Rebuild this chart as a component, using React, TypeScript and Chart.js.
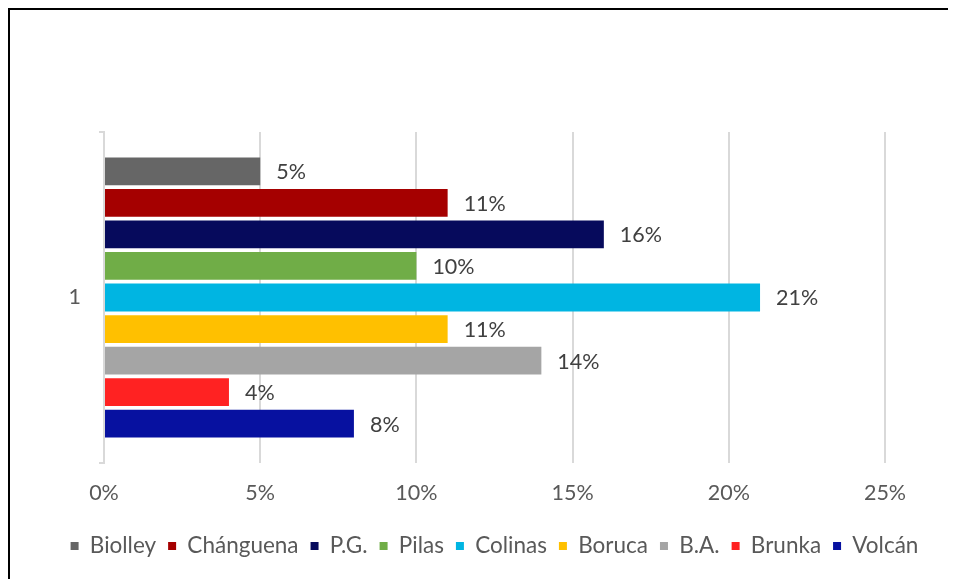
import React, { useEffect, useRef } from "react";
import { Chart, registerables } from "chart.js";

Chart.register(...registerables);

const categories: string[] = ["1"];
const seriesNames: string[] = ["Biolley", "Chánguena", "P.G.", "Pilas", "Colinas", "Boruca", "B.A.", "Brunka", "Volcán"];
const seriesValues: number[] = [5, 11, 16, 10, 21, 11, 14, 4, 8];
const seriesColors: string[] = ["#666666", "#A50000", "#060A5C", "#70AD47", "#00B5E2", "#FFC000", "#A5A5A5", "#FF2222", "#0711A0"];
const xTicks: number[] = [0, 5, 10, 15, 20, 25];

const FONT = "Lato, 'Open Sans', sans-serif";
const FS = 21.5;
const LFS = 22.5;

const frameBackgroundPlugin = {
  id: "frameBackground",
  beforeDraw(chart: any) {
    const ctx = chart.ctx;
    ctx.save();
    ctx.fillStyle = "#FFFFFF";
    ctx.fillRect(0, 0, chart.width, chart.height);
    ctx.fillStyle = "#000000";
    ctx.fillRect(0, 0, chart.width, 2);
    ctx.fillRect(0, 0, 2, chart.height);
    ctx.restore();
  },
};

const dataLabelPlugin = {
  id: "barValueLabels",
  afterDatasetsDraw(chart: any) {
    const ctx = chart.ctx;
    ctx.save();
    ctx.font = `${FS}px ${FONT}`;
    ctx.fillStyle = "#404040";
    ctx.textAlign = "left";
    ctx.textBaseline = "middle";
    chart.data.datasets.forEach((ds: any, i: number) => {
      const meta = chart.getDatasetMeta(i);
      meta.data.forEach((el: any, j: number) => {
        const v = ds.data[j];
        ctx.fillText(`${Math.round(v)}%`, el.x + 16, el.y + 1);
      });
    });
    ctx.restore();
  },
};

const legendShiftPlugin = {
  id: "legendShift",
  afterLayout(chart: any) {
    const lg = chart.legend;
    if (lg) {
      lg.left += 48;
      lg.right += 48;
    }
  },
};

export default function App() {
  const ref = useRef<HTMLCanvasElement | null>(null);
  useEffect(() => {
    document.body.style.overflow = "hidden";
    if (!ref.current) return;
    const chart = new Chart(ref.current, {
      type: "bar",
      data: {
        labels: categories,
        datasets: seriesNames.map((name, i) => ({
          label: name,
          data: [seriesValues[i]],
          backgroundColor: seriesColors[i],
          borderWidth: 0,
          categoryPercentage: 0.858,
          barPercentage: 0.88,
        })),
      },
      options: {
        indexAxis: "y",
        animation: false,
        responsive: false,
        maintainAspectRatio: false,
        layout: { padding: { left: 0, right: 71, top: 124, bottom: 11.75 } },
        plugins: {
          legend: {
            position: "bottom",
            labels: {
              boxWidth: 8,
              boxHeight: 8,
              padding: 12,
              color: "#595959",
              font: { family: FONT, size: LFS },
            },
          },
          tooltip: { enabled: false },
        },
        scales: {
          x: {
            min: 0,
            max: 25,
            afterBuildTicks: (scale: any) => {
              scale.ticks = xTicks.map((v) => ({ value: v }));
            },
            afterFit: (scale: any) => {
              scale.height = 59.75;
            },
            ticks: {
              padding: 17,
              color: "#595959",
              font: { family: FONT, size: FS },
              callback: (v: any) => `${v}%`,
            },
            grid: { color: "#D9D9D9", lineWidth: 2, drawTicks: false },
            border: { display: false },
          },
          y: {
            afterFit: (scale: any) => {
              scale.width = 96;
            },
            ticks: {
              padding: 18,
              color: "#595959",
              font: { family: FONT, size: FS },
            },
            grid: { color: "#D9D9D9", lineWidth: 2, drawOnChartArea: false, tickLength: 5, offset: true },
            border: { display: true, color: "#D9D9D9", width: 2 },
          },
        },
      },
      plugins: [frameBackgroundPlugin, dataLabelPlugin, legendShiftPlugin],
    });
    return () => chart.destroy();
  }, []);
  return (
    <div style={{ width: 948, height: 571 }}>
      <canvas ref={ref} width={948} height={571} style={{ display: "block" }} />
    </div>
  );
}
